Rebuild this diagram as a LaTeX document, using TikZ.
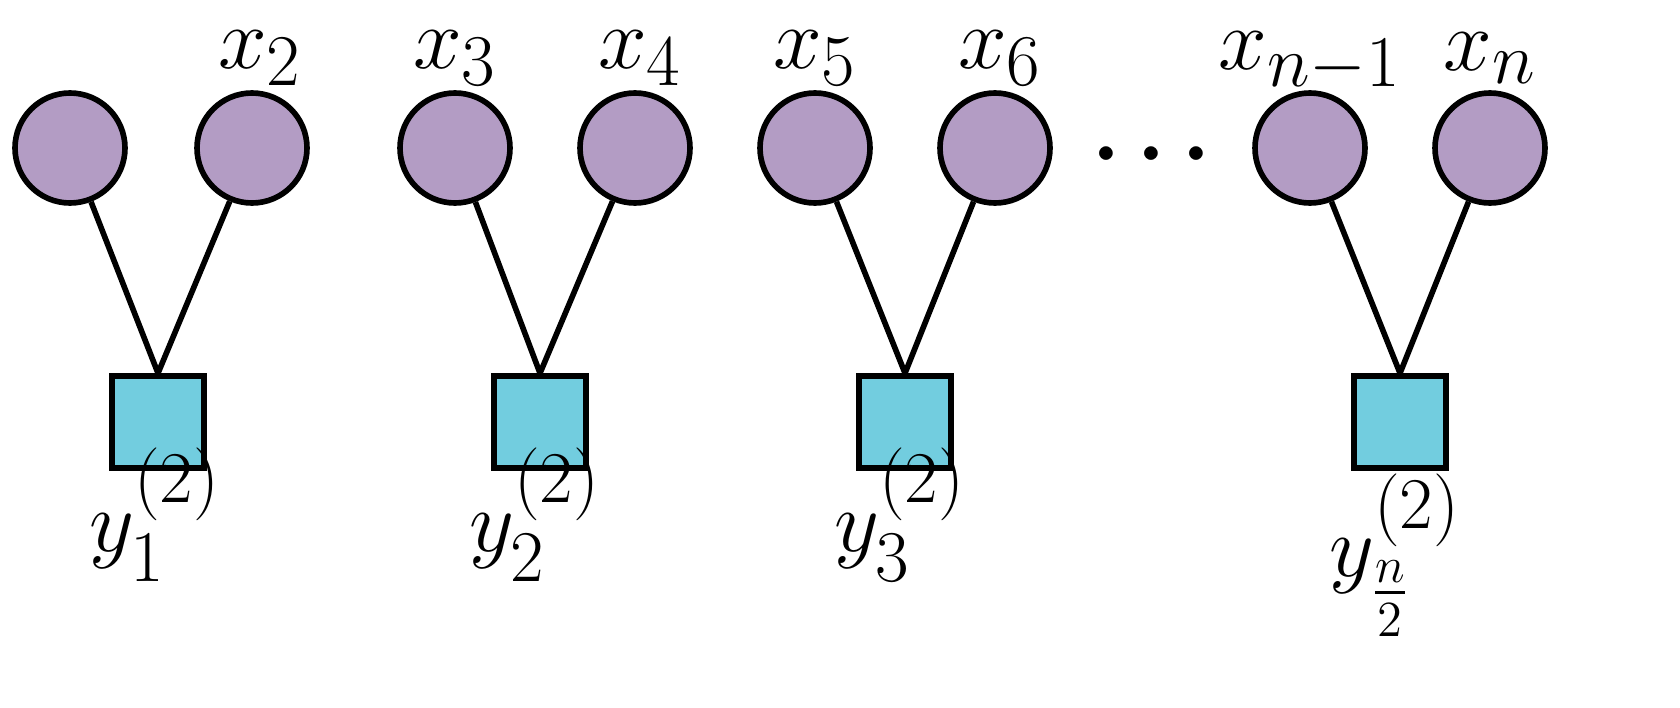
\documentclass[tikz,border=0pt]{standalone}
\usepackage{amsmath}
\usepackage{tikz}
\usetikzlibrary{positioning}
\definecolor{varcol}{HTML}{B39CC4}
\definecolor{chkcol}{HTML}{72CDDF}
\begin{document}
\begin{tikzpicture}[
    var/.style={circle, draw, line width=1.6pt, fill=varcol, minimum size=1.1cm, inner sep=0pt},
    chk/.style={rectangle, draw, line width=1.6pt, fill=chkcol, minimum size=0.92cm, inner sep=0pt},
    edge/.style={line width=1.6pt},
    lbl/.style={font=\fontsize{29}{34}\selectfont, inner sep=1pt}
]
\useasboundingbox (0,0) rectangle (16.8,-7.07);

% variable nodes
\node[var] (v1) at (0.70,-1.48) {};
\node[var] (v2) at (2.52,-1.48) {};
\node[var] (v3) at (4.55,-1.48) {};
\node[var] (v4) at (6.35,-1.48) {};
\node[var] (v5) at (8.15,-1.48) {};
\node[var] (v6) at (9.95,-1.48) {};
\node[var] (v7) at (13.10,-1.48) {};
\node[var] (v8) at (14.90,-1.48) {};

% check nodes
\node[chk] (c1) at (1.58,-4.22) {};
\node[chk] (c2) at (5.40,-4.22) {};
\node[chk] (c3) at (9.05,-4.22) {};
\node[chk] (c4) at (14.00,-4.22) {};

% edges
\draw[edge] (v1) -- (c1.north);
\draw[edge] (v2) -- (c1.north);
\draw[edge] (v3) -- (c2.north);
\draw[edge] (v4) -- (c2.north);
\draw[edge] (v5) -- (c3.north);
\draw[edge] (v6) -- (c3.north);
\draw[edge] (v7) -- (c4.north);
\draw[edge] (v8) -- (c4.north);

% labels
\node[lbl] (lx2) at (2.60,-0.58) {$x_2$};
\node[lbl] (lx3) at (4.55,-0.58) {$x_3$};
\node[lbl] (lx4) at (6.40,-0.58) {$x_4$};
\node[lbl] (lx5) at (8.15,-0.58) {$x_5$};
\node[lbl] (lx6) at (10.00,-0.58) {$x_6$};
\node[lbl] (lx7) at (13.10,-0.62) {$x_{n-1}$};
\node[lbl] (lx8) at (14.90,-0.58) {$x_n$};
\node[lbl] (dots) at (11.60,-1.55) {$\boldsymbol{\cdots}$};
\node[lbl] (ly1) at (1.55,-5.15) {$y_1^{(2)}$};
\node[lbl] (ly2) at (5.35,-5.15) {$y_2^{(2)}$};
\node[lbl] (ly3) at (9.00,-5.15) {$y_3^{(2)}$};
\node[lbl] (ly4) at (13.95,-5.55) {$y_{\frac{n}{2}}^{(2)}$};
\end{tikzpicture}
\end{document}
